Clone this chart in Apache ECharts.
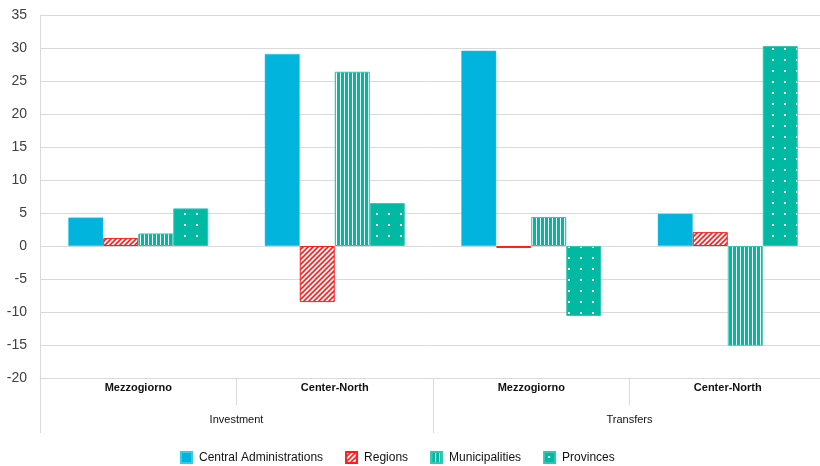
<!DOCTYPE html>
<html>
<head>
<meta charset="utf-8">
<script src="https://cdn.jsdelivr.net/npm/echarts@6/dist/echarts.min.js"></script>
<style>
html,body{margin:0;padding:0;background:#fff;}
#chart{width:820px;height:466px;}
</style>
</head>
<body>
<div id="chart"></div>
<script>
// ---- Data ----
const regions = ['Mezzogiorno', 'Center-North', 'Mezzogiorno', 'Center-North'];
const groups = ['Investment', 'Transfers'];
const seriesNames = ['Central Administrations', 'Regions', 'Municipalities', 'Provinces'];
const centralAdmin = [4.3, 29.1, 29.6, 4.9];
const regionsVals = [1.2, -8.5, -0.3, 2.1];
const municipalities = [1.9, 26.4, 4.4, -15.1];
const provinces = [5.7, 6.5, -10.6, 30.3];
const yTicks = {min: -20, max: 35, interval: 5};

// ---- Styles ----
const BLUE = '#00B4DE';
const TEAL = '#00B9A3';
const RED = '#FF1E1E';

function canvasOf(w, h, draw) {
  const c = document.createElement('canvas');
  c.width = w; c.height = h;
  draw(c.getContext('2d'));
  return c;
}
const hatch = canvasOf(5, 5, ctx => {
  ctx.fillStyle = '#fff'; ctx.fillRect(0, 0, 5, 5);
  ctx.strokeStyle = RED; ctx.lineWidth = 1.6;
  ctx.beginPath();
  ctx.moveTo(-1, 6); ctx.lineTo(6, -1);
  ctx.moveTo(-1, 1); ctx.lineTo(1, -1);
  ctx.moveTo(4, 6); ctx.lineTo(6, 4);
  ctx.stroke();
});
const stripes = canvasOf(4, 4, ctx => {
  ctx.fillStyle = TEAL; ctx.fillRect(0, 0, 4, 4);
  ctx.fillStyle = '#ffffff'; ctx.fillRect(0, 0, 1, 4);
});
const dots = canvasOf(12, 11, ctx => {
  ctx.fillStyle = TEAL; ctx.fillRect(0, 0, 12, 11);
  ctx.fillStyle = '#ffffff'; ctx.fillRect(4, 4, 2, 2);
});

const chart = echarts.init(document.getElementById('chart'));
const FONT = '"Liberation Sans", Arial, sans-serif';

function bar(name, data, itemStyle) {
  return {
    name, type: 'bar', data, xAxisIndex: 0, yAxisIndex: 0,
    barWidth: 35, barGap: '0%', itemStyle
  };
}

chart.setOption({
  animation: false,
  backgroundColor: '#fff',
  textStyle: {fontFamily: FONT},
  grid: {left: 40, right: -6, top: 15, bottom: 88, containLabel: false, outerBoundsMode: 'none'},
  legend: {
    left: 175, top: 446,
    itemWidth: 11, itemHeight: 11, itemGap: 22,
    icon: 'rect',
    textStyle: {fontFamily: FONT, fontSize: 12, color: '#111', padding: [0, 0, 0, 2]},
    data: seriesNames
  },
  xAxis: [
    {
      type: 'category', data: regions, position: 'bottom',
      axisLine: {onZero: false, show: true, lineStyle: {color: '#d9d9d9'}},
      axisTick: {show: true, length: 27, lineStyle: {color: '#d9d9d9'}},
      axisLabel: {margin: 4, fontFamily: FONT, fontSize: 11, fontWeight: 'bold', color: '#111'}
    },
    {
      type: 'category', data: groups, position: 'bottom',
      axisLine: {onZero: false, show: false},
      axisTick: {show: true, length: 55, lineStyle: {color: '#d9d9d9'}},
      axisLabel: {margin: 36, fontFamily: FONT, fontSize: 11, color: '#111'}
    }
  ],
  yAxis: {
    type: 'value', min: yTicks.min, max: yTicks.max, interval: yTicks.interval,
    axisLine: {show: true, lineStyle: {color: '#d9d9d9'}},
    axisTick: {show: false},
    splitLine: {lineStyle: {color: '#d9d9d9', width: 1}},
    axisLabel: {margin: 13, fontFamily: FONT, fontSize: 14, color: '#404040'}
  },
  series: [
    bar(seriesNames[0], centralAdmin, {color: BLUE, borderColor: '#3cc6ea', borderWidth: 0.5}),
    bar(seriesNames[1], regionsVals, {color: {image: hatch, repeat: 'repeat'}, borderColor: RED, borderWidth: 1}),
    bar(seriesNames[2], municipalities, {color: {image: stripes, repeat: 'repeat'}, borderColor: '#33C6B2', borderWidth: 1}),
    bar(seriesNames[3], provinces, {color: {image: dots, repeat: 'repeat'}, borderColor: '#33C6B2', borderWidth: 1})
  ]
});
</script>
</body>
</html>
